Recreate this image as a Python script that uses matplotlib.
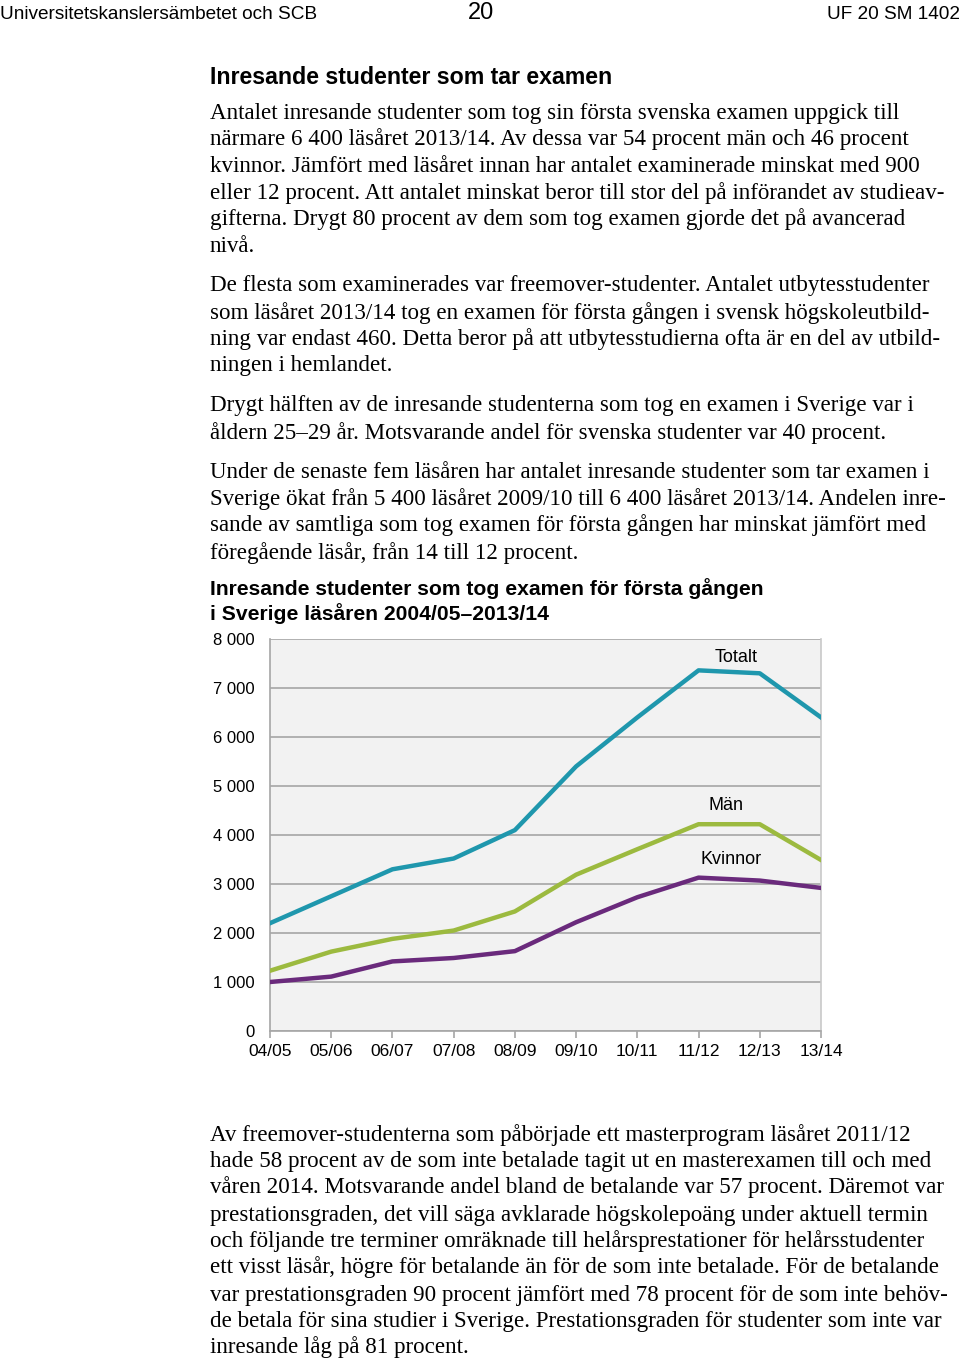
import matplotlib
matplotlib.use("Agg")
import matplotlib.pyplot as plt

# ---- data ----
years = ["04/05", "05/06", "06/07", "07/08", "08/09", "09/10", "10/11", "11/12", "12/13", "13/14"]
totalt = [2200, 2750, 3300, 3520, 4100, 5400, 6400, 7360, 7300, 6400]
man = [1230, 1620, 1880, 2050, 2440, 3190, 3710, 4220, 4220, 3490]
kvinnor = [1000, 1110, 1420, 1490, 1630, 2220, 2730, 3130, 3070, 2920]
yticks = [0, 1000, 2000, 3000, 4000, 5000, 6000, 7000, 8000]
ytick_labels = ["0", "1 000", "2 000", "3 000", "4 000", "5 000", "6 000", "7 000", "8 000"]

header_left = "Universitetskanslersämbetet och SCB"
header_mid = "20"
header_right = "UF 20 SM 1402"
heading = "Inresande studenter som tar examen"
chart_title = ["Inresande studenter som tog examen för första gången",
               "i Sverige läsåren 2004/05–2013/14"]

para_top = [
    (111, "Antalet inresande studenter som tog sin första svenska examen uppgick till"),
    (137, "närmare 6 400 läsåret 2013/14. Av dessa var 54 procent män och 46 procent"),
    (164, "kvinnor. Jämfört med läsåret innan har antalet examinerade minskat med 900"),
    (191, "eller 12 procent. Att antalet minskat beror till stor del på införandet av studieav-"),
    (218, "gifterna. Drygt 80 procent av dem som tog examen gjorde det på avancerad"),
    (244, "nivå."),
    (284, "De flesta som examinerades var freemover-studenter. Antalet utbytesstudenter"),
    (311, "som läsåret 2013/14 tog en examen för första gången i svensk högskoleutbild-"),
    (337, "ning var endast 460. Detta beror på att utbytesstudierna ofta är en del av utbild-"),
    (364, "ningen i hemlandet."),
    (404, "Drygt hälften av de inresande studenterna som tog en examen i Sverige var i"),
    (431, "åldern 25–29 år. Motsvarande andel för svenska studenter var 40 procent."),
    (471, "Under de senaste fem läsåren har antalet inresande studenter som tar examen i"),
    (497, "Sverige ökat från 5 400 läsåret 2009/10 till 6 400 läsåret 2013/14. Andelen inre-"),
    (524, "sande av samtliga som tog examen för första gången har minskat jämfört med"),
    (551, "föregående läsår, från 14 till 12 procent."),
    (1133, "Av freemover-studenterna som påbörjade ett masterprogram läsåret 2011/12"),
    (1159, "hade 58 procent av de som inte betalade tagit ut en masterexamen till och med"),
    (1186, "våren 2014. Motsvarande andel bland de betalande var 57 procent. Däremot var"),
    (1213, "prestationsgraden, det vill säga avklarade högskolepoäng under aktuell termin"),
    (1239, "och följande tre terminer omräknade till helårsprestationer för helårsstudenter"),
    (1266, "ett visst läsår, högre för betalande än för de som inte betalade. För de betalande"),
    (1293, "var prestationsgraden 90 procent jämfört med 78 procent för de som inte behöv-"),
    (1320, "de betala för sina studier i Sverige. Prestationsgraden för studenter som inte var"),
    (1346, "inresande låg på 81 procent."),
]

W, H = 960, 1359
fig = plt.figure(figsize=(W / 100, H / 100), dpi=100)
fig.patch.set_facecolor("white")

def fy(py):
    return 1 - py / H

sans = "Liberation Sans"
serif = "Liberation Serif"

fig.text(0.0, fy(19), header_left, family=sans, fontsize=13.7, va="baseline", ha="left")
fig.text(481 / W, fy(19), header_mid, family=sans, fontsize=17, va="baseline", ha="center")
fig.text(1.0, fy(19), header_right, family=sans, fontsize=13.7, va="baseline", ha="right")
fig.text(210 / W, fy(84), heading, family=sans, fontsize=16.7, fontweight="bold", va="baseline", ha="left")

for py, line in para_top:
    fig.text(210 / W, fy(py + 7.5), line, family=serif, fontsize=16.6, va="baseline", ha="left")

fig.text(210 / W, fy(595), chart_title[0], family=sans, fontsize=15.2, fontweight="bold", va="baseline", ha="left")
fig.text(210 / W, fy(620), chart_title[1], family=sans, fontsize=15.2, fontweight="bold", va="baseline", ha="left")

# ---- chart ----
left, right, top, bottom = 270, 821, 639, 1031
ax = fig.add_axes([left / W, fy(bottom), (right - left) / W, (bottom - top) / H])
ax.set_facecolor("#f2f2f2")
x = list(range(len(years)))
ax.plot(x, totalt, color="#1f97ad", lw=3.2, solid_joinstyle="round", zorder=3)
ax.plot(x, man, color="#9cba3f", lw=3.2, solid_joinstyle="round", zorder=3)
ax.plot(x, kvinnor, color="#6a2a7c", lw=3.2, solid_joinstyle="round", zorder=3)

ax.set_xlim(0, len(years) - 1)
ax.set_ylim(0, 8000)
ax.set_yticks(yticks)
ax.set_yticklabels(ytick_labels, family=sans, fontsize=12)
ax.set_xticks(x)
ax.set_xticklabels(years, family=sans, fontsize=12.5)
ax.yaxis.grid(True, color="#a6a6a6", lw=1.2)
ax.set_axisbelow(True)
ax.tick_params(axis="y", length=0, pad=11)
ax.tick_params(axis="x", length=5, color="#a6a6a6", width=1.2, pad=4)
ax.spines["top"].set_visible(False)
ax.spines["left"].set_color("#a6a6a6")
ax.spines["right"].set_color("#c8c8c8")
ax.spines["bottom"].set_color("#a6a6a6")
for s in ["left", "bottom", "right"]:
    ax.spines[s].set_linewidth(1.2)

ax.text(7.27, 7630, "Totalt", family=sans, fontsize=13, ha="left", va="center")
ax.text(7.16, 4610, "Män", family=sans, fontsize=13, ha="left", va="center")
ax.text(7.03, 3510, "Kvinnor", family=sans, fontsize=13, ha="left", va="center")

fig.savefig("out.png", dpi=100)
